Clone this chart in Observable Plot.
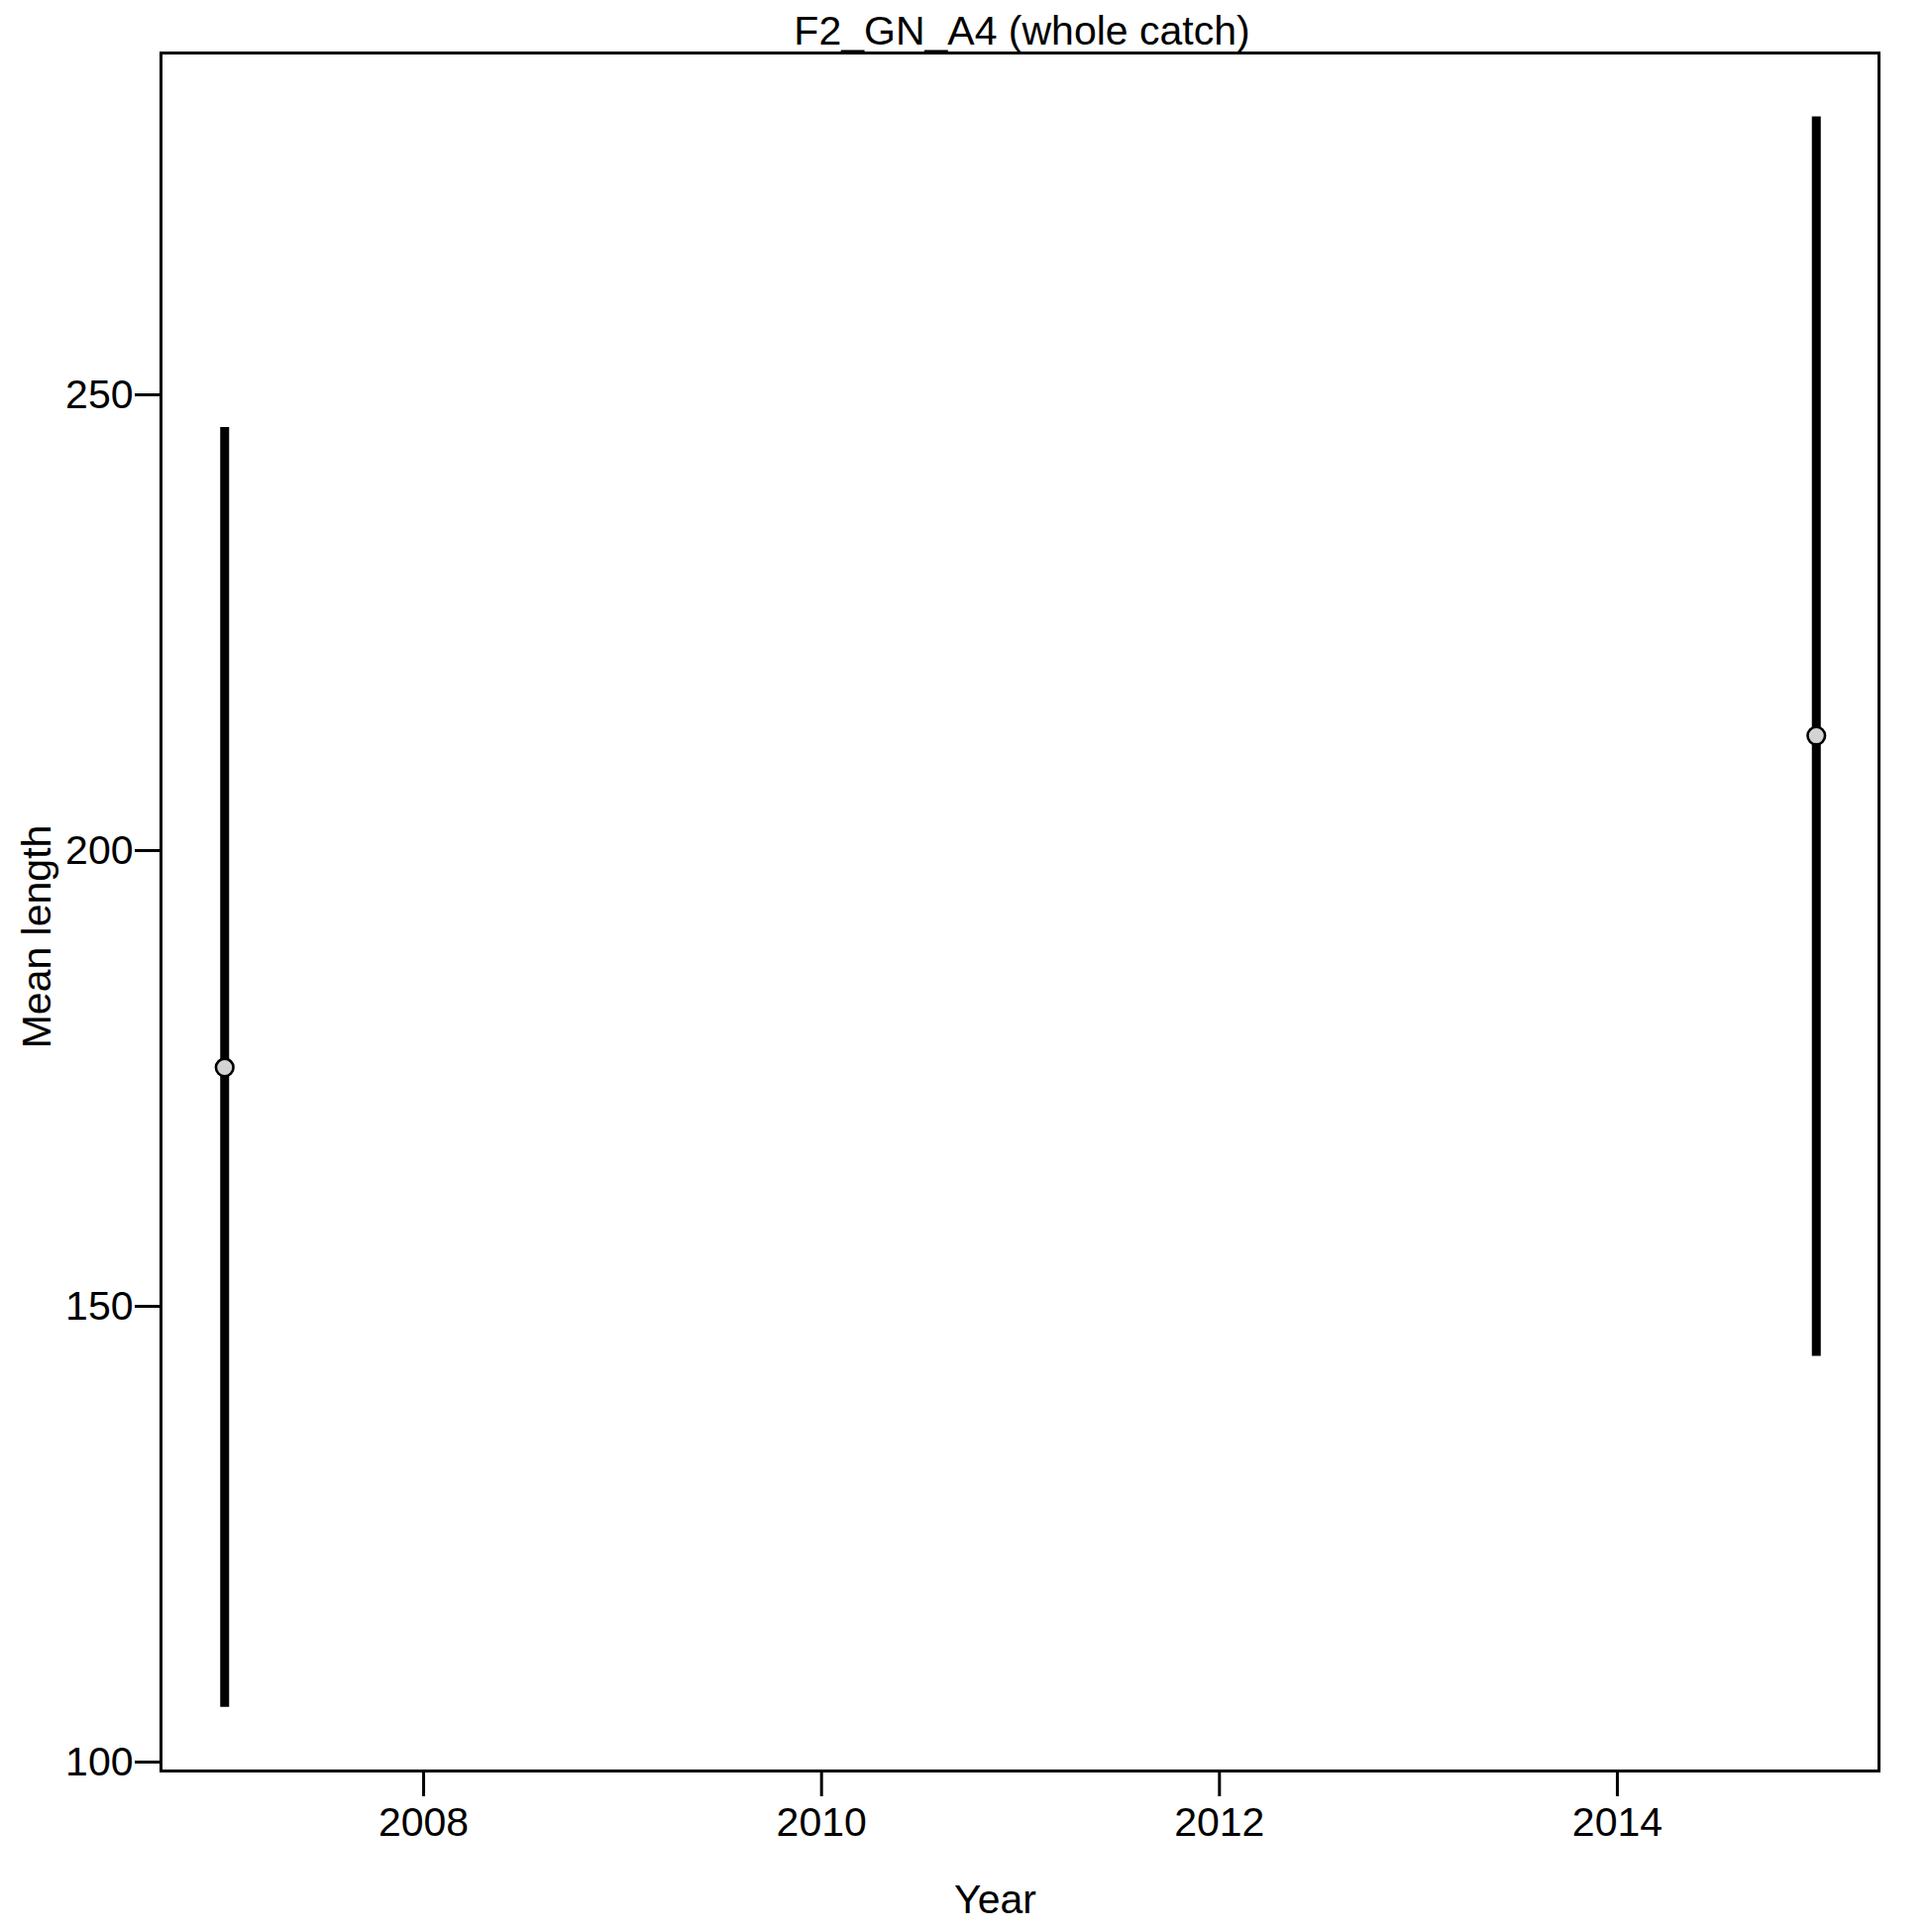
<!DOCTYPE html>
<html><head><meta charset="utf-8">
<script src="https://cdn.jsdelivr.net/npm/d3@7"></script>
<script src="https://cdn.jsdelivr.net/npm/@observablehq/plot@0.6"></script>
<style>html,body{margin:0;padding:0;background:#fff;}</style>
</head><body><div id="chart"></div>
<script>
const years = [2007, 2015];
const meanLength = [176.2, 212.6];
const lowerCI = [106.0, 144.5];
const upperCI = [246.4, 280.5];
const xTicks = [2008, 2010, 2012, 2014];
const yTicks = [100, 150, 200, 250];
const titleText = "F2_GN_A4 (whole catch)";
const xLabel = "Year";
const yLabel = "Mean length";

const data = years.map((y, i) => ({year: y, mean: meanLength[i], lo: lowerCI[i], hi: upperCI[i]}));
const font = "'Liberation Sans', Arial, Helvetica, sans-serif";

const chart = Plot.plot({
  width: 1950, height: 1950,
  marginLeft: 162, marginRight: 54, marginTop: 53, marginBottom: 163,
  style: {fontFamily: font, background: "#fff", color: "#000"},
  x: {domain: [2006.68, 2015.315]},
  y: {domain: [99.02, 287.5]},
  marks: [
    Plot.axisX({ticks: xTicks, tickSize: 26, tickPadding: 10, strokeWidth: 3, fontSize: 41, label: null, tickFormat: d => String(d), fill: "black"}),
    Plot.axisY({ticks: yTicks, tickSize: 26, tickPadding: 2, strokeWidth: 3, fontSize: 41, label: null, tickFormat: d => String(d), fill: "black"}),
    Plot.frame({stroke: "black", strokeWidth: 3}),
    Plot.ruleX(data, {x: "year", y1: "lo", y2: "hi", stroke: "black", strokeWidth: 9}),
    Plot.dot(data, {x: "year", y: "mean", r: 8.8, fill: "#d3d3d3", stroke: "black", strokeWidth: 2.6}),
    Plot.text([titleText], {text: d => d, frameAnchor: "top", lineAnchor: "bottom", dy: -9, dx: 2, fontSize: 41, fill: "black"}),
    Plot.text([xLabel], {text: d => d, frameAnchor: "bottom", lineAnchor: "bottom", dy: 143, dx: -25, fontSize: 41, fill: "black"}),
    Plot.text([yLabel], {text: d => d, frameAnchor: "left", rotate: -90, lineAnchor: "bottom", textAnchor: "middle", dx: -112, dy: 25, fontSize: 41, fill: "black"})
  ]
});
document.getElementById("chart").appendChild(chart);
</script>
</body></html>
